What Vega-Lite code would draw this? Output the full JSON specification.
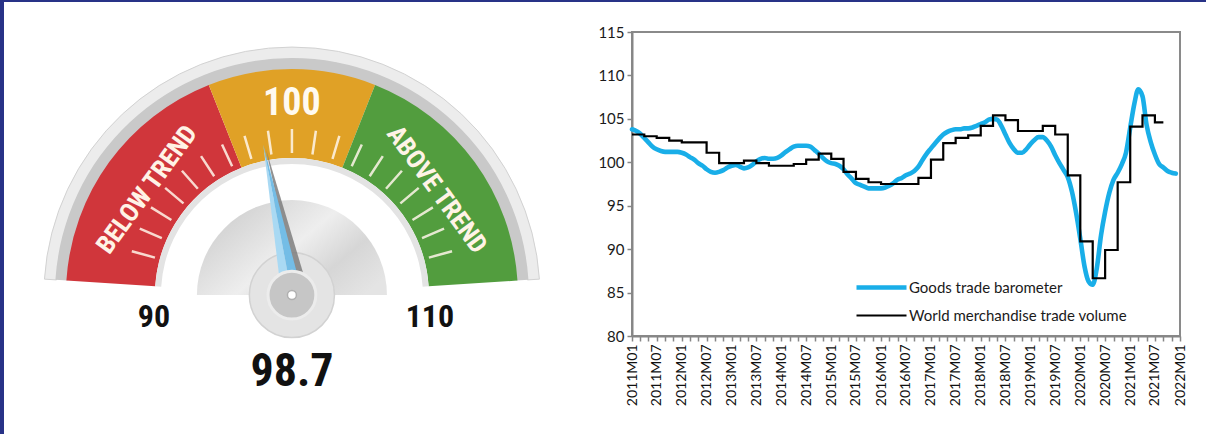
{
  "$schema": "https://vega.github.io/schema/vega-lite/v6.json",
  "background": "white",
  "padding": 0,
  "spacing": 0,
  "bounds": "flush",
  "resolve": {"scale": {"color": "independent", "strokeWidth": "independent"}, "legend": {"color": "independent", "strokeWidth": "independent"}},
  "config": {
    "view": {"stroke": null},
    "font": "Lato",
    "concat": {"spacing": 0},
    "legend": {
      "orient": "none", "legendX": 242, "legendY": 278, "padding": 0,
      "symbolType": "M -5 0 L 5 0", "symbolSize": 100, "labelOffset": 20,
      "labelFont": "Lato", "labelFontSize": 15, "labelColor": "#1a1a1a", "labelLimit": 400,
      "rowPadding": 11, "title": null
    }
  },
  "datasets": {
    "zones": [
      {"zone": "below", "from": 89.6, "to": 97.4, "label": "BELOW TREND"},
      {"zone": "target", "from": 97.4, "to": 102.6, "label": "100"},
      {"zone": "above", "from": 102.6, "to": 110.4, "label": "ABOVE TREND"}
    ],
    "ticks": [
      {"t": 91}, {"t": 92}, {"t": 93}, {"t": 94}, {"t": 95}, {"t": 96}, {"t": 97}, {"t": 98}, {"t": 99}, {"t": 100},
      {"t": 101}, {"t": 102}, {"t": 103}, {"t": 104}, {"t": 105}, {"t": 106}, {"t": 107}, {"t": 108}, {"t": 109}
    ],
    "ends": [{"v": 90, "label": "90"}, {"v": 110, "label": "110"}],
    "reading": [{"value": 98.7}],
    "barometer": [
      {"d":"2011-01-01","v":103.8},{"d":"2011-02-01","v":103.6},{"d":"2011-03-01","v":103.3},{"d":"2011-04-01","v":102.8},{"d":"2011-05-01","v":102.3},{"d":"2011-06-01","v":101.8},{"d":"2011-07-01","v":101.5},{"d":"2011-08-01","v":101.3},{"d":"2011-09-01","v":101.2},{"d":"2011-10-01","v":101.2},{"d":"2011-11-01","v":101.2},{"d":"2011-12-01","v":101.2},
      {"d":"2012-01-01","v":101.1},{"d":"2012-02-01","v":100.9},{"d":"2012-03-01","v":100.6},{"d":"2012-04-01","v":100.3},{"d":"2012-05-01","v":99.9},{"d":"2012-06-01","v":99.6},{"d":"2012-07-01","v":99.2},{"d":"2012-08-01","v":98.9},{"d":"2012-09-01","v":98.8},{"d":"2012-10-01","v":98.9},{"d":"2012-11-01","v":99.1},{"d":"2012-12-01","v":99.4},
      {"d":"2013-01-01","v":99.6},{"d":"2013-02-01","v":99.7},{"d":"2013-03-01","v":99.5},{"d":"2013-04-01","v":99.3},{"d":"2013-05-01","v":99.4},{"d":"2013-06-01","v":99.7},{"d":"2013-07-01","v":100.1},{"d":"2013-08-01","v":100.4},{"d":"2013-09-01","v":100.5},{"d":"2013-10-01","v":100.4},{"d":"2013-11-01","v":100.4},{"d":"2013-12-01","v":100.5},
      {"d":"2014-01-01","v":100.8},{"d":"2014-02-01","v":101.2},{"d":"2014-03-01","v":101.5},{"d":"2014-04-01","v":101.8},{"d":"2014-05-01","v":101.9},{"d":"2014-06-01","v":101.9},{"d":"2014-07-01","v":101.9},{"d":"2014-08-01","v":101.8},{"d":"2014-09-01","v":101.4},{"d":"2014-10-01","v":101.0},{"d":"2014-11-01","v":100.5},{"d":"2014-12-01","v":100.1},
      {"d":"2015-01-01","v":99.9},{"d":"2015-02-01","v":99.8},{"d":"2015-03-01","v":99.6},{"d":"2015-04-01","v":99.2},{"d":"2015-05-01","v":98.6},{"d":"2015-06-01","v":98.1},{"d":"2015-07-01","v":97.6},{"d":"2015-08-01","v":97.4},{"d":"2015-09-01","v":97.2},{"d":"2015-10-01","v":97.0},{"d":"2015-11-01","v":97.0},{"d":"2015-12-01","v":97.0},
      {"d":"2016-01-01","v":97.0},{"d":"2016-02-01","v":97.1},{"d":"2016-03-01","v":97.3},{"d":"2016-04-01","v":97.6},{"d":"2016-05-01","v":98.0},{"d":"2016-06-01","v":98.2},{"d":"2016-07-01","v":98.5},{"d":"2016-08-01","v":98.7},{"d":"2016-09-01","v":99.0},{"d":"2016-10-01","v":99.5},{"d":"2016-11-01","v":100.3},{"d":"2016-12-01","v":101.0},
      {"d":"2017-01-01","v":101.6},{"d":"2017-02-01","v":102.2},{"d":"2017-03-01","v":102.7},{"d":"2017-04-01","v":103.2},{"d":"2017-05-01","v":103.5},{"d":"2017-06-01","v":103.7},{"d":"2017-07-01","v":103.8},{"d":"2017-08-01","v":103.8},{"d":"2017-09-01","v":103.9},{"d":"2017-10-01","v":103.9},{"d":"2017-11-01","v":104.0},{"d":"2017-12-01","v":104.2},
      {"d":"2018-01-01","v":104.4},{"d":"2018-02-01","v":104.6},{"d":"2018-03-01","v":104.9},{"d":"2018-04-01","v":105.0},{"d":"2018-05-01","v":104.9},{"d":"2018-06-01","v":104.2},{"d":"2018-07-01","v":103.2},{"d":"2018-08-01","v":102.2},{"d":"2018-09-01","v":101.5},{"d":"2018-10-01","v":101.1},{"d":"2018-11-01","v":101.1},{"d":"2018-12-01","v":101.5},
      {"d":"2019-01-01","v":102.1},{"d":"2019-02-01","v":102.6},{"d":"2019-03-01","v":102.9},{"d":"2019-04-01","v":102.9},{"d":"2019-05-01","v":102.5},{"d":"2019-06-01","v":101.8},{"d":"2019-07-01","v":100.8},{"d":"2019-08-01","v":99.9},{"d":"2019-09-01","v":99.1},{"d":"2019-10-01","v":98.3},{"d":"2019-11-01","v":96.6},{"d":"2019-12-01","v":94.2},
      {"d":"2020-01-01","v":91.2},{"d":"2020-02-01","v":88.0},{"d":"2020-03-01","v":86.3},{"d":"2020-04-01","v":85.9},{"d":"2020-05-01","v":87.8},{"d":"2020-06-01","v":91.6},{"d":"2020-07-01","v":94.3},{"d":"2020-08-01","v":96.5},{"d":"2020-09-01","v":98.0},{"d":"2020-10-01","v":98.8},{"d":"2020-11-01","v":99.8},{"d":"2020-12-01","v":101.1},
      {"d":"2021-01-01","v":104.0},{"d":"2021-02-01","v":106.8},{"d":"2021-03-01","v":108.4},{"d":"2021-04-01","v":107.6},{"d":"2021-05-01","v":104.3},{"d":"2021-06-01","v":102.3},{"d":"2021-07-01","v":100.9},{"d":"2021-08-01","v":99.8},{"d":"2021-09-01","v":99.4},{"d":"2021-10-01","v":99.0},{"d":"2021-11-01","v":98.8},{"d":"2021-12-01","v":98.7}
    ],
    "volume": [
      {"d":"2011-01-01","v":103.2},{"d":"2011-04-01","v":103.0},{"d":"2011-07-01","v":102.8},{"d":"2011-10-01","v":102.5},
      {"d":"2012-01-01","v":102.3},{"d":"2012-04-01","v":102.3},{"d":"2012-07-01","v":101.1},{"d":"2012-10-01","v":99.9},
      {"d":"2013-01-01","v":99.9},{"d":"2013-04-01","v":100.2},{"d":"2013-07-01","v":99.9},{"d":"2013-10-01","v":99.6},
      {"d":"2014-01-01","v":99.6},{"d":"2014-04-01","v":99.8},{"d":"2014-07-01","v":100.3},{"d":"2014-10-01","v":101.0},
      {"d":"2015-01-01","v":100.4},{"d":"2015-04-01","v":98.9},{"d":"2015-07-01","v":98.1},{"d":"2015-10-01","v":97.7},
      {"d":"2016-01-01","v":97.5},{"d":"2016-04-01","v":97.5},{"d":"2016-07-01","v":97.5},{"d":"2016-10-01","v":98.2},
      {"d":"2017-01-01","v":100.3},{"d":"2017-04-01","v":102.2},{"d":"2017-07-01","v":102.8},{"d":"2017-10-01","v":103.1},
      {"d":"2018-01-01","v":104.2},{"d":"2018-04-01","v":105.4},{"d":"2018-07-01","v":104.85},{"d":"2018-10-01","v":103.6},
      {"d":"2019-01-01","v":103.6},{"d":"2019-04-01","v":104.2},{"d":"2019-07-01","v":103.2},{"d":"2019-10-01","v":98.5},
      {"d":"2020-01-01","v":90.9},{"d":"2020-04-01","v":86.65},{"d":"2020-07-01","v":89.9},{"d":"2020-10-01","v":97.7},
      {"d":"2021-01-01","v":104.1},{"d":"2021-04-01","v":105.4},{"d":"2021-07-01","v":104.6},{"d":"2021-09-01","v":104.6}
    ]
  },
  "vconcat": [
    {
      "width": 1206, "height": 2,
      "view": {"fill": "#283287", "stroke": null},
      "data": {"values": []},
      "mark": "rect",
      "encoding": {}
    },
    {
      "spacing": 0,
      "bounds": "flush",
      "resolve": {"scale": {"color": "independent", "strokeWidth": "independent"}, "legend": {"color": "independent", "strokeWidth": "independent"}},
      "hconcat": [
        {
          "width": 4, "height": 432,
          "view": {"fill": "#283287", "stroke": null},
          "data": {"values": []},
          "mark": "rect",
          "encoding": {}
        },
        {
          "width": 628, "height": 432,
          "view": {"stroke": null},
          "encoding": {
            "x": {"datum": 0, "type": "quantitative", "scale": {"domain": [-1.27, 1.5], "nice": false, "zero": false}, "axis": null},
            "y": {"datum": 0, "type": "quantitative", "scale": {"domain": [-0.613, 1.293], "nice": false, "zero": false}, "axis": null}
          },
          "layer": [
            {
              "data": {"name": "zones"},
              "transform": [{"aggregate": [{"op": "min", "field": "from", "as": "from"}, {"op": "max", "field": "to", "as": "to"}]}],
              "mark": {"type": "arc", "innerRadius": 236, "outerRadius": 248, "fill": "#ececec", "stroke": "#d2d2d2", "strokeWidth": 1},
              "encoding": {
                "theta": {"field": "from", "type": "quantitative", "scale": {"domain": [90, 110], "range": [-1.4486, 1.4486]}},
                "theta2": {"field": "to"}
              }
            },
            {
              "data": {"name": "zones"},
              "transform": [{"aggregate": [{"op": "min", "field": "from", "as": "from"}, {"op": "max", "field": "to", "as": "to"}]}],
              "mark": {"type": "arc", "innerRadius": 225, "outerRadius": 237, "fill": "#c9c9c9"},
              "encoding": {
                "theta": {"field": "from", "type": "quantitative", "scale": {"domain": [90, 110], "range": [-1.4486, 1.4486]}},
                "theta2": {"field": "to"}
              }
            },
            {
              "data": {"name": "zones"},
              "mark": {"type": "arc", "innerRadius": 137, "outerRadius": 226},
              "encoding": {
                "theta": {"field": "from", "type": "quantitative", "scale": {"domain": [90, 110], "range": [-1.4486, 1.4486]}},
                "theta2": {"field": "to"},
                "color": {"field": "zone", "type": "nominal", "scale": {"domain": ["below", "target", "above"], "range": ["#d0363b", "#e0a126", "#529d3e"]}, "legend": null}
              }
            },
            {
              "data": {"name": "zones"},
              "transform": [{"aggregate": [{"op": "min", "field": "from", "as": "from"}, {"op": "max", "field": "to", "as": "to"}]}],
              "mark": {"type": "arc", "innerRadius": 131, "outerRadius": 137, "fill": "#e3e3e3"},
              "encoding": {
                "theta": {"field": "from", "type": "quantitative", "scale": {"domain": [90, 110], "range": [-1.4486, 1.4486]}},
                "theta2": {"field": "to"}
              }
            },
            {
              "data": {"name": "ticks"},
              "mark": {"type": "arc", "innerRadius": 142, "outerRadius": 166, "filled": false, "stroke": "#fff6ea", "strokeWidth": 2.5, "strokeOpacity": 0.85},
              "encoding": {
                "theta": {"field": "t", "type": "quantitative", "scale": {"domain": [90, 110], "range": [-1.4486, 1.4486]}},
                "theta2": {"field": "t"}
              }
            },
            {
              "data": {"name": "zones"},
              "transform": [{"filter": "datum.zone != 'target'"}, {"calculate": "(datum.from + datum.to) / 2", "as": "mid"}],
              "mark": {"type": "text", "radius": 179, "font": "Roboto Condensed, DejaVu Sans Condensed, Roboto", "fontWeight": "bold", "fontSize": 26, "fill": "#fff3e6", "align": "center", "baseline": "middle"},
              "encoding": {
                "theta": {"field": "mid", "type": "quantitative", "scale": {"domain": [90, 110], "range": [-1.4486, 1.4486]}},
                "angle": {"field": "mid", "type": "quantitative", "scale": {"domain": [90, 110], "range": [-83, 83]}},
                "text": {"field": "label"}
              }
            },
            {
              "data": {"name": "zones"},
              "transform": [{"filter": "datum.zone == 'target'"}, {"calculate": "(datum.from + datum.to) / 2", "as": "mid"}],
              "mark": {"type": "text", "radius": 191, "font": "Roboto Condensed, DejaVu Sans Condensed, Roboto", "fontWeight": "bold", "fontSize": 38, "fill": "#fffaf0", "align": "center", "baseline": "middle"},
              "encoding": {
                "theta": {"field": "mid", "type": "quantitative", "scale": {"domain": [90, 110], "range": [-1.4486, 1.4486]}},
                "text": {"field": "label"}
              }
            },
            {
              "data": {"name": "ends"},
              "mark": {"type": "text", "radius": 139, "dy": 39, "font": "Roboto Condensed, DejaVu Sans Condensed, Roboto", "fontWeight": "bold", "fontSize": 32, "fill": "#111111", "align": "center", "baseline": "middle"},
              "encoding": {
                "theta": {"field": "v", "type": "quantitative", "scale": {"domain": [90, 110], "range": [-1.4486, 1.4486]}},
                "text": {"field": "label"}
              }
            },
            {
              "data": {"name": "reading"},
              "mark": {"type": "arc", "theta": -1.5708, "theta2": 1.5708, "innerRadius": 0, "outerRadius": 95,
                "fill": {"gradient": "linear", "x1": 0, "y1": 0.2, "x2": 1, "y2": 0.8, "stops": [{"offset": 0, "color": "#cbcbcb"}, {"offset": 0.5, "color": "#eeeeee"}, {"offset": 0.75, "color": "#d6d6d6"}, {"offset": 1, "color": "#e4e4e4"}]}}
            },
            {
              "data": {"name": "reading"},
              "mark": {"type": "point", "shape": "circle", "size": 7238, "filled": true, "fill": "#e4e4e4", "stroke": "#d2d2d2", "strokeWidth": 1.5, "opacity": 1}
            },
            {
              "data": {"name": "reading"},
              "mark": {"type": "point", "shape": "M 0.012 -0.97 L 0.1 -0.12 L 0.03 -0.12 Z", "size": 93636, "filled": true, "fill": "#7e7e7e", "strokeWidth": 0, "opacity": 0.85},
              "encoding": {"angle": {"field": "value", "type": "quantitative", "scale": {"domain": [90, 110], "range": [-83, 83]}}}
            },
            {
              "data": {"name": "reading"},
              "mark": {"type": "point", "shape": "M 0 -1 L -0.06 -0.12 L 0 -0.12 Z", "size": 93636, "filled": true, "fill": "#a9d9f3", "strokeWidth": 0, "opacity": 1},
              "encoding": {"angle": {"field": "value", "type": "quantitative", "scale": {"domain": [90, 110], "range": [-83, 83]}}}
            },
            {
              "data": {"name": "reading"},
              "mark": {"type": "point", "shape": "M 0 -1 L 0.06 -0.12 L 0 -0.12 Z", "size": 93636, "filled": true, "fill": "#74bde6", "strokeWidth": 0, "opacity": 1},
              "encoding": {"angle": {"field": "value", "type": "quantitative", "scale": {"domain": [90, 110], "range": [-83, 83]}}}
            },
            {
              "data": {"name": "reading"},
              "mark": {"type": "point", "shape": "circle", "size": 2290, "filled": true, "fill": "#c6c6c6", "stroke": "#ececec", "strokeWidth": 3, "opacity": 1}
            },
            {
              "data": {"name": "reading"},
              "mark": {"type": "point", "shape": "circle", "size": 80, "filled": true, "fill": "#ffffff", "stroke": "#b0b0b0", "strokeWidth": 1.5, "opacity": 1}
            },
            {
              "data": {"name": "reading"},
              "mark": {"type": "text", "dy": 77, "font": "Roboto Condensed, DejaVu Sans Condensed, Roboto", "fontWeight": "bold", "fontSize": 46, "fill": "#111111", "align": "center", "baseline": "middle"},
              "encoding": {"text": {"field": "value", "type": "quantitative", "format": ".1f"}}
            }
          ]
        },
        {
          "spacing": 0,
          "bounds": "flush",
          "vconcat": [
            {
              "width": 548, "height": 30,
              "view": {"stroke": null},
              "data": {"values": []},
              "mark": "rect",
              "encoding": {}
            },
            {
              "width": 548, "height": 304,
              "view": {"stroke": "#8a8a8a", "strokeWidth": 2},
              "layer": [
                {
                  "mark": {"type": "rule", "color": "#808080", "strokeWidth": 3},
                  "encoding": {"y": {"datum": 100, "type": "quantitative", "scale": {"domain": [80, 115], "nice": false, "zero": false}}}
                },
                {
                  "data": {"name": "barometer"},
                  "mark": {"type": "line", "interpolate": "monotone", "strokeCap": "round", "strokeJoin": "round"},
                  "encoding": {
                    "x": {"field": "d", "type": "temporal", "scale": {"type": "utc", "domain": [{"year": 2011, "month": 1, "date": 1, "utc": true}, {"year": 2022, "month": 1, "date": 1, "utc": true}]},
                      "axis": {"title": null, "grid": false, "tickCount": {"interval": "month", "step": 2}, "labelExpr": "utcmonth(datum.value) % 6 == 0 ? utcFormat(datum.value, '%YM%m') : ''", "labelAngle": 270, "labelAlign": "right", "labelBaseline": "middle", "labelOverlap": false, "labelFlush": false, "labelBound": false, "labelFont": "Lato", "labelFontSize": 14, "labelColor": "#111111", "labelPadding": 3, "domainColor": "#868686", "domainWidth": 2, "tickColor": "#868686", "tickSize": 5, "tickWidth": 1.5}},
                    "y": {"field": "v", "type": "quantitative", "scale": {"domain": [80, 115], "nice": false, "zero": false},
                      "axis": {"title": null, "grid": false, "values": [80, 85, 90, 95, 100, 105, 110, 115], "labelFont": "Lato", "labelFontSize": 15, "labelColor": "#1a1a1a", "labelPadding": 3, "domainColor": "#868686", "domainWidth": 2, "tickColor": "#868686", "tickSize": 5, "tickWidth": 1.5}},
                    "color": {"datum": "Goods trade barometer", "type": "nominal", "scale": {"domain": ["Goods trade barometer", "World merchandise trade volume"], "range": ["#19aee8", "#000000"]}},
                    "strokeWidth": {"datum": "Goods trade barometer", "type": "ordinal", "scale": {"domain": ["Goods trade barometer", "World merchandise trade volume"], "range": [4.6, 2.2]}}
                  }
                },
                {
                  "data": {"name": "volume"},
                  "mark": {"type": "line", "interpolate": "step-after"},
                  "encoding": {
                    "x": {"field": "d", "type": "temporal"},
                    "y": {"field": "v", "type": "quantitative"},
                    "color": {"datum": "World merchandise trade volume", "type": "nominal"},
                    "strokeWidth": {"datum": "World merchandise trade volume", "type": "ordinal"}
                  }
                }
              ]
            }
          ]
        }
      ]
    }
  ]
}
